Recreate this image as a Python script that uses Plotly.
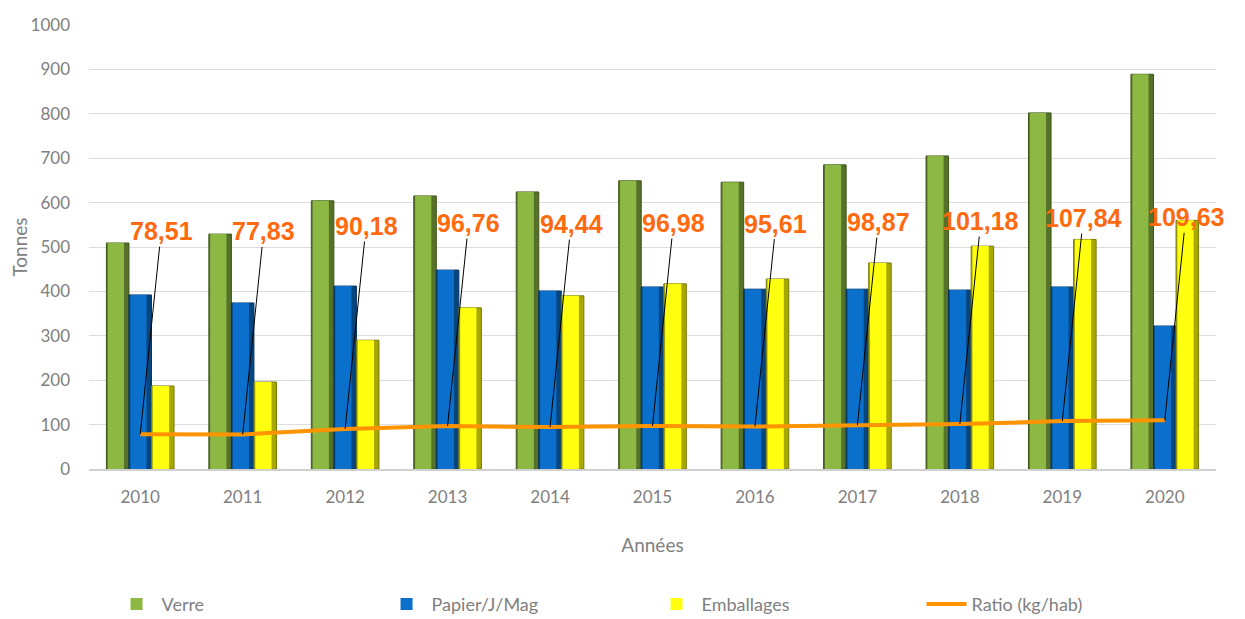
import plotly.graph_objects as go

# Data
annees = ['2010', '2011', '2012', '2013', '2014', '2015', '2016', '2017', '2018', '2019', '2020']
verre = [509, 529, 604, 615, 624, 649, 646, 685, 705, 802, 889]
papier = [392, 374, 412, 448, 401, 410, 405, 405, 403, 410, 322]
emballages = [187, 196, 290, 363, 390, 417, 428, 464, 502, 517, 560]
ratio = [78.51, 77.83, 90.18, 96.76, 94.44, 96.98, 95.61, 98.87, 101.18, 107.84, 109.63]

GRAY = '#808080'
FONT = 'Lato'
BAR_W = 0.22

# (name, values, light colour, dark colour, edge colour, offset)
series = [
    ('Verre', verre, '#8CB843', '#55712A', '#3F5619', -0.33),
    ('Papier/J/Mag', papier, '#0A70CC', '#07457F', '#053462', -0.11),
    ('Emballages', emballages, '#FFFF10', '#A8A800', '#7A7A12', 0.11),
]

fig = go.Figure()

# bars: a dark base (shadow side) with a lighter face on top for a bevel look
for name, vals, light, dark, edge, off in series:
    fig.add_trace(go.Bar(
        x=annees, y=vals, name=name, width=BAR_W, offset=off,
        marker=dict(color=dark, line=dict(color=edge, width=1)),
        showlegend=False, hoverinfo='skip',
    ))
    fig.add_trace(go.Bar(
        x=annees, y=vals, name=name, width=BAR_W * 0.72, offset=off + BAR_W * 0.06,
        marker=dict(color=light, line=dict(width=0)),
    ))

fig.add_trace(go.Scatter(
    x=annees, y=ratio, name='Ratio (kg/hab)', mode='lines',
    line=dict(color='#FF9300', width=4)
))

# Orange value labels with thin black leader lines
# (x given as category index so the annotation does not stretch the axis)
for i, r in enumerate(ratio):
    fig.add_annotation(
        x=i, y=r, text='<b>' + f'{r:.2f}'.replace('.', ',') + '</b>',
        showarrow=True, arrowhead=0, arrowwidth=1, arrowcolor='black',
        ax=21, ay=-203,
        font=dict(family='Liberation Sans', size=25, color='#FF6A0F'),
    )

# the page adds an 8px body margin, so the figure is a bit smaller than the window
fig.update_layout(
    width=1237, height=611,
    margin=dict(l=81, r=29, t=17, b=150, autoexpand=False),
    paper_bgcolor='white', plot_bgcolor='white',
    barmode='overlay', bargap=0.34,
    font=dict(family=FONT, color=GRAY, size=16),
    legend=dict(
        orientation='h', x=0.02, y=-0.305, yanchor='middle', xanchor='left',
        entrywidth=215, entrywidthmode='pixels',
        font=dict(family=FONT, size=18, color=GRAY),
        itemwidth=40,
    ),
    xaxis=dict(
        type='category', range=[-0.5, len(annees) - 0.5],
        title=dict(text='Années', font=dict(size=19, color=GRAY), standoff=33),
        showline=True, linecolor='#D0D0D0', linewidth=1.5,
        ticks='', ticklabelstandoff=12,
        tickfont=dict(size=17, color=GRAY),
    ),
    yaxis=dict(
        title=dict(text='Tonnes', font=dict(size=19, color=GRAY), standoff=0),
        range=[0, 1000], dtick=100,
        gridcolor='#DDDDDD', gridwidth=1, zeroline=False,
        ticks='', ticklabelstandoff=18,
        tickfont=dict(size=17, color=GRAY),
    ),
)

fig.write_html('out.html')
